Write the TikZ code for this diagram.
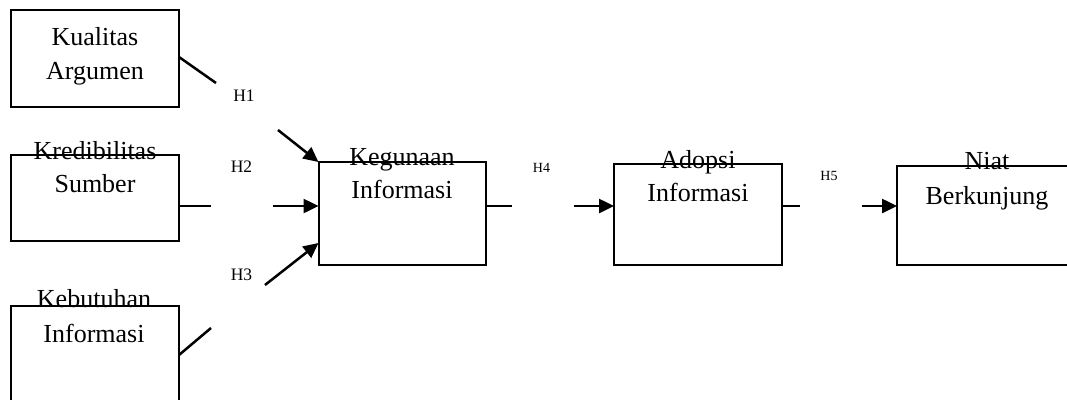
\documentclass[tikz,border=0pt]{standalone}
\usepackage{fontspec}
\setmainfont{Liberation Serif}
\usetikzlibrary{arrows.meta}
\begin{document}
\begin{tikzpicture}[x=1pt,y=-1pt,
  box/.style={draw, line width=2pt, inner sep=0pt, outer sep=0pt},
  boxtext/.style={anchor=base, inner sep=0pt, font=\fontsize{26}{30}\selectfont},
  hbig/.style={anchor=base, inner sep=0pt, font=\fontsize{17.5}{20}\selectfont},
  hsmall/.style={anchor=base, inner sep=0pt, font=\fontsize{14}{16}\selectfont},
  link/.style={line width=2.5pt},
  arr/.style={line width=2.5pt, -{Triangle[length=15pt,width=14pt]}}]
\useasboundingbox (0,0) rectangle (1067,399);
\clip (0,0) rectangle (1067,399);

% boxes
\node[box, minimum width=168, minimum height=97]  (kua)  at (95,58.5)   {};
\node[box, minimum width=168, minimum height=86]  (kre)  at (95,198)    {};
\node[box, minimum width=168, minimum height=114] (keb)  at (95,363)    {};
\node[box, minimum width=167, minimum height=102.5] (keg) at (402,213.25) {};
\node[box, minimum width=168, minimum height=101] (ado)  at (698,214.5)  {};
\node[box, minimum width=203, minimum height=99]  (niat) at (998.5,215.5) {};

% box captions
\node[boxtext] (kua1)  at (95,45)  {Kualitas};
\node[boxtext] (kua2)  at (95,79)  {Argumen};
\node[boxtext] (kre1)  at (95,159) {Kredibilitas};
\node[boxtext] (kre2)  at (95,192) {Sumber};
\node[boxtext] (keb1)  at (94,307) {Kebutuhan};
\node[boxtext] (keb2)  at (94,342) {Informasi};
\node[boxtext] (keg1)  at (402,165) {Kegunaan};
\node[boxtext] (keg2)  at (402,198) {Informasi};
\node[boxtext] (ado1)  at (698,168) {Adopsi};
\node[boxtext] (ado2)  at (698,201) {Informasi};
\node[boxtext] (niat1) at (987,169) {Niat};
\node[boxtext] (niat2) at (987,204) {Berkunjung};

% hypothesis labels
\node[hbig]   (h1) at (244,101)   {H1};
\node[hbig]   (h2) at (241.5,172) {H2};
\node[hbig]   (h3) at (241.5,280) {H3};
\node[hsmall] (h4) at (541.5,172) {H4};
\node[hsmall] (h5) at (829,180)   {H5};

% broken connector ends
\coordinate (a1) at (216,83);
\coordinate (b1) at (278,130);
\coordinate (a2) at (211,206);
\coordinate (b2) at (273,206);
\coordinate (a3) at (211,328);
\coordinate (b3) at (265,285);
\coordinate (a4) at (512,206);
\coordinate (b4) at (574,206);
\coordinate (a5) at (800,206);
\coordinate (b5) at (862,206);
\coordinate (s1) at (179,57);
\coordinate (s3) at (179,355);
\coordinate (t3) at (318.5,243);

% H1
\draw[link] (s1) -- (a1);
\draw[arr]  (b1) -- (keg.north west);
% H2
\draw[link] (a2 -| kre.east) -- (a2);
\draw[arr]  (b2) -- (b2 -| keg.west);
% H3
\draw[link] (s3) -- (a3);
\draw[arr]  (b3) -- (t3);
% H4
\draw[link] (a4 -| keg.east) -- (a4);
\draw[arr]  (b4) -- (b4 -| ado.west);
% H5
\draw[link] (a5 -| ado.east) -- (a5);
\draw[arr]  (b5) -- (b5 -| niat.west);
\end{tikzpicture}
\end{document}
